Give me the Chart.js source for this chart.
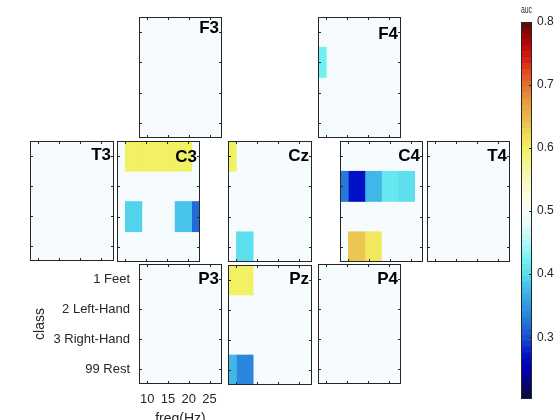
<!DOCTYPE html>
<html><head><meta charset="utf-8">
<script src="https://cdn.jsdelivr.net/npm/chart.js@4/dist/chart.umd.min.js"></script>
<style>
html,body{margin:0;padding:0;background:#fff;}
#wrap{position:relative;width:560px;height:420px;overflow:hidden;background:#fff;}
#wrap canvas{position:absolute;left:0;top:0;}
</style></head><body><div id="wrap"></div>
<script>
// ---------- data ----------
const freqs = [8, 12, 16, 20, 24, 28];                 // bin centres (Hz)
const classes = ['1 Feet', '2 Left-Hand', '3 Right-Hand', '99 Rest'];
const freqTicks = [10, 15, 20, 25];
const aucTicks = [0.3, 0.4, 0.5, 0.6, 0.7, 0.8];
const aucRange = [0.202, 0.8];

// AUC per class (rows) x frequency bin (cols); null = not significant
const aucF3 = [[null,null,null,null,null,null],[null,null,null,null,null,null],[null,null,null,null,null,null],[null,null,null,null,null,null]];
const aucF4 = [[null,null,null,null,null,null],[0.42,null,null,null,null,null],[null,null,null,null,null,null],[null,null,null,null,null,null]];
const aucT3 = [[null,null,null,null,null,null],[null,null,null,null,null,null],[null,null,null,null,null,null],[null,null,null,null,null,null]];
const aucC3 = [[null,0.603,0.595,0.595,0.595,null],[null,null,null,null,null,null],[null,0.392,null,null,0.382,0.315],[null,null,null,null,null,null]];
const aucCz = [[0.598,null,null,null,null,null],[null,null,null,null,null,null],[null,null,null,null,null,null],[null,0.402,null,null,null,null]];
const aucC4 = [[null,null,null,null,null,null],[0.325,0.27,0.378,0.412,0.402,null],[null,null,null,null,null,null],[null,0.64,0.61,null,null,null]];
const aucT4 = [[null,null,null,null,null,null],[null,null,null,null,null,null],[null,null,null,null,null,null],[null,null,null,null,null,null]];
const aucP3 = [[null,null,null,null,null,null],[null,null,null,null,null,null],[null,null,null,null,null,null],[null,null,null,null,null,null]];
const aucPz = [[0.598,0.595,null,null,null,null],[null,null,null,null,null,null],[null,null,null,null,null,null],[0.37,0.338,null,null,null,null]];
const aucP4 = [[null,null,null,null,null,null],[null,null,null,null,null,null],[null,null,null,null,null,null],[null,null,null,null,null,null]];

// ---------- style / layout ----------
const FONT = '"Liberation Sans", Arial, Helvetica, sans-serif';
Chart.defaults.font.family = FONT;
const INK = '#262626';
const panels = [
  {name:'F3', auc:aucF3, box:[139, 17, 83, 121], dy:11},
  {name:'F4', auc:aucF4, box:[318, 17, 83, 121], dy:17},
  {name:'T3', auc:aucT3, box:[30, 141, 84, 120], dy:14},
  {name:'C3', auc:aucC3, box:[117, 141, 83, 121], dy:16},
  {name:'Cz', auc:aucCz, box:[228, 141, 84, 121], dy:15.5},
  {name:'C4', auc:aucC4, box:[340, 141, 83, 121], dy:15.5},
  {name:'T4', auc:aucT4, box:[427, 141, 83, 121], dy:15.5},
  {name:'P3', auc:aucP3, box:[139, 264, 83, 120], dy:15.5, axes:true},
  {name:'Pz', auc:aucPz, box:[228, 265, 84, 120], dy:14},
  {name:'P4', auc:aucP4, box:[318, 264, 83, 120], dy:15}
];
const cbBox = [521, 22, 11, 377];

const cmapStops = [
  [0.200,'#0a0a30'],[0.220,'#06066a'],[0.250,'#0000b4'],[0.270,'#0010c8'],
  [0.300,'#1a50d4'],[0.320,'#2070d8'],[0.340,'#2c8ce0'],[0.360,'#38a4e4'],
  [0.380,'#46c0ea'],[0.400,'#5cdeee'],[0.420,'#70f0f2'],[0.450,'#b0f8f8'],
  [0.480,'#e6fcfc'],[0.500,'#f6fcfe'],[0.520,'#fcfce4'],[0.550,'#f8f8c0'],
  [0.580,'#f4f488'],[0.600,'#f2f060'],[0.620,'#f0dc58'],[0.640,'#e8c050'],
  [0.670,'#e8a040'],[0.700,'#e07030'],[0.720,'#e04a20'],[0.740,'#d82010'],
  [0.760,'#c00808'],[0.780,'#900606'],[0.800,'#500808']
];
const NBANDS = 64, CLO = 0.2, CHI = 0.8;
function h2r(h){return [parseInt(h.substr(1,2),16),parseInt(h.substr(3,2),16),parseInt(h.substr(5,2),16)];}
function interp(v){
  if (v <= cmapStops[0][0]) return cmapStops[0][1];
  for (let i = 1; i < cmapStops.length; i++) {
    if (v <= cmapStops[i][0]) {
      const [v0,c0] = cmapStops[i-1], [v1,c1] = cmapStops[i];
      const t = (v - v0) / (v1 - v0), a = h2r(c0), b = h2r(c1);
      return 'rgb(' + a.map((x,k)=>Math.round(x + (b[k]-x)*t)).join(',') + ')';
    }
  }
  return cmapStops[cmapStops.length-1][1];
}
function bandIndex(v){ return Math.max(0, Math.min(NBANDS-1, Math.floor((v-CLO)/(CHI-CLO)*NBANDS))); }
function cmap(v){ const k = bandIndex(v); return interp(CLO + (k+0.5)*(CHI-CLO)/NBANDS); }
const BG = interp(0.5);

const wrap = document.getElementById('wrap');
function newCanvas(){ const c = document.createElement('canvas'); c.width = 560; c.height = 420; wrap.appendChild(c); return c; }

const matlabAxes = {
  id: 'matlabAxes',
  beforeDatasetsDraw(chart) {
    const {ctx, chartArea:a} = chart;
    ctx.save(); ctx.fillStyle = BG; ctx.fillRect(a.left, a.top, a.right-a.left, a.bottom-a.top); ctx.restore();
  },
  afterDatasetsDraw(chart, args, opts) {
    const {ctx, chartArea:a, scales:{x, y}} = chart;
    ctx.save();
    ctx.strokeStyle = INK; ctx.lineWidth = 1;
    ctx.strokeRect(a.left+0.5, a.top+0.5, a.right-a.left-1, a.bottom-a.top-1);
    const tl = 3;
    ctx.beginPath();
    x.ticks.forEach(t => {
      const px = Math.round(x.getPixelForValue(t.value)) + 0.5;
      ctx.moveTo(px, a.bottom); ctx.lineTo(px, a.bottom - tl);
      ctx.moveTo(px, a.top); ctx.lineTo(px, a.top + tl);
    });
    y.ticks.forEach((t, i) => {
      const py = Math.round(y.getPixelForTick(i)) + 0.5;
      ctx.moveTo(a.left, py); ctx.lineTo(a.left + tl, py);
      ctx.moveTo(a.right, py); ctx.lineTo(a.right - tl, py);
    });
    ctx.stroke();
    ctx.fillStyle = '#000';
    ctx.font = 'bold 17px ' + FONT;
    ctx.textAlign = 'right'; ctx.textBaseline = 'middle';
    ctx.fillText(opts.label, a.right - 3, a.top + opts.dy);
    ctx.restore();
  }
};

const binW = freqs[1] - freqs[0];
panels.forEach(p => {
  const [L, T, W, H] = p.box;
  const datasets = freqs.map((f, j) => ({
    data: p.auc.map(row => row[j] == null ? null : [f - binW/2, f + binW/2]),
    backgroundColor: p.auc.map(row => row[j] == null ? 'rgba(0,0,0,0)' : cmap(row[j])),
    borderWidth: 0, grouped: false, categoryPercentage: 1, barPercentage: 1, clip: 0
  }));
  const YW = 110, XH = 420 - (T + H);
  new Chart(newCanvas(), {
    type: 'bar',
    data: { labels: classes, datasets },
    plugins: [matlabAxes],
    options: {
      responsive: false, animation: false, indexAxis: 'y',
      events: [],
      layout: { padding: p.axes
        ? {left: L - YW, top: T, right: 560 - (L + W), bottom: 0}
        : {left: L, top: T, right: 560 - (L + W), bottom: 420 - (T + H)} },
      plugins: { legend: {display:false}, tooltip: {enabled:false}, matlabAxes: {label: p.name, dy: p.dy} },
      scales: {
        x: {
          type: 'linear', position: 'bottom', min: freqs[0], max: freqs[freqs.length-1],
          display: !!p.axes,
          grid: {display:false, drawTicks:false}, border: {display:false},
          afterBuildTicks: s => { s.ticks = freqTicks.map(v => ({value: v})); },
          ticks: {autoSkip:false, maxRotation:0, padding: 8, color: INK, font: {size: 13}},
          title: {display: true, text: 'freq(Hz)', color: INK, font: {size: 14}, padding: {top: 0, bottom: -8}},
          afterFit: s => { if (p.axes) s.height = XH; }
        },
        y: {
          type: 'category', position: 'left', display: !!p.axes,
          grid: {display:false, drawTicks:false}, border: {display:false},
          ticks: {padding: 9, color: INK, font: {size: 13}},
          title: {display: true, text: 'class', color: INK, font: {size: 14}, padding: {top: 3, bottom: 0}},
          afterFit: s => { if (p.axes) s.width = YW; }
        }
      }
    }
  });
});

// ---------- colorbar ----------
const cbStep = (CHI - CLO) / NBANDS;
const cbDatasets = Array.from({length: NBANDS}, (_, k) => ({
  data: [[CLO + k*cbStep, CLO + (k+1)*cbStep]],
  backgroundColor: interp(CLO + (k+0.5)*cbStep),
  borderWidth: 0, grouped: false, categoryPercentage: 1, barPercentage: 1, clip: 0
}));
const cbFrame = {
  id: 'cbFrame',
  afterDatasetsDraw(chart) {
    const {ctx, chartArea:a, scales:{y}} = chart;
    ctx.save(); ctx.strokeStyle = INK; ctx.lineWidth = 1;
    ctx.strokeRect(a.left+0.5, a.top+0.5, a.right-a.left-1, a.bottom-a.top-1);
    ctx.beginPath();
    y.ticks.forEach(t => {
      const py = Math.round(y.getPixelForValue(t.value)) + 0.5;
      ctx.moveTo(a.right, py); ctx.lineTo(a.right - 3, py);
    });
    ctx.stroke(); ctx.restore();
  }
};
const [cL, cT, cW, cH] = cbBox;
new Chart(newCanvas(), {
  type: 'bar',
  data: { labels: ['auc'], datasets: cbDatasets },
  plugins: [cbFrame],
  options: {
    responsive: false, animation: false, events: [],
    layout: { padding: {left: cL, top: 0, right: 0, bottom: 420 - (cT + cH)} },
    plugins: { legend: {display:false}, tooltip: {enabled:false} },
    scales: {
      x: { type: 'category', position: 'top', display: true,
           grid: {display:false, drawTicks:false}, border: {display:false},
           ticks: {display:false},
           title: {display: true, text: 'auc', color: INK, font: {size: 11}, padding: {top: 3, bottom: 0}},
           afterFit: s => { s.height = cT; } },
      y: { type: 'linear', position: 'right', min: aucRange[0], max: aucRange[1],
           grid: {display:false, drawTicks:false}, border: {display:false},
           afterBuildTicks: s => { s.ticks = aucTicks.map(v => ({value: v})); },
           ticks: {padding: 5, color: INK, font: {size: 12}, callback: v => v.toFixed(1)},
           afterFit: s => { s.width = 560 - (cL + cW); } }
    }
  }
});
</script></body></html>
